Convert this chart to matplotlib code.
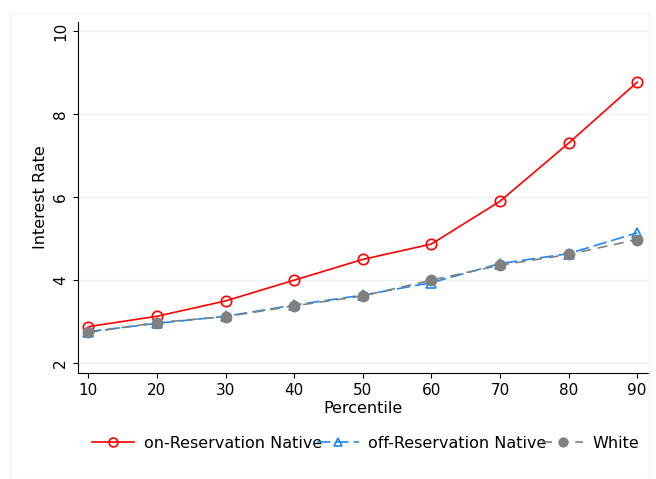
import matplotlib
matplotlib.use("Agg")
import matplotlib.pyplot as plt
from matplotlib.patches import Rectangle

percentile = [10, 20, 30, 40, 50, 60, 70, 80, 90]
on_res = [2.88, 3.13, 3.50, 4.00, 4.50, 4.87, 5.90, 7.30, 8.77]
off_res = [2.76, 2.96, 3.13, 3.40, 3.64, 3.94, 4.40, 4.64, 5.14]
white = [2.74, 2.98, 3.12, 3.38, 3.62, 4.00, 4.36, 4.62, 4.98]
yticks = [2, 4, 6, 8, 10]

plt.rcParams['font.family'] = ['DejaVu Sans']
fig = plt.figure(figsize=(6.56, 4.79), dpi=100)
fig.patches.append(Rectangle((0.015, 0.0), 0.975, 0.972, transform=fig.transFigure,
                             fill=False, edgecolor='#f2f2f2', lw=1))
ax = fig.add_axes([0.119, 0.221, 0.869, 0.733])

ax.plot(percentile, on_res, color='red', lw=1.2, marker='o', ms=7.5,
        mfc='none', mec='red', mew=1.2, label='on-Reservation Native', zorder=3)
ax.plot(percentile, off_res, color='#1e88f0', lw=1.2, ls=(0, (8, 3)), marker='^', ms=7,
        mfc='none', mec='#1e88f0', mew=1.2, label='off-Reservation Native', zorder=4)
ax.plot(percentile, white, color='#808080', lw=1.2, ls=(0, (6, 4)), marker='o', ms=7.5,
        mfc='#808080', mec='#808080', label='White', zorder=5)

ax.set_xlim(8.5, 91.6)
ax.set_ylim(1.76, 10.22)
ax.set_xticks(percentile)
ax.set_yticks(yticks)
ax.set_yticklabels([str(v) for v in yticks], rotation=90, va='center')
ax.tick_params(labelsize=11)
ax.yaxis.grid(True, color='#eaf2f3', lw=1)
ax.set_axisbelow(True)
for s in ['top', 'right']:
    ax.spines[s].set_visible(False)
ax.set_xlabel('Percentile', fontsize=11.5, labelpad=2)
ax.set_ylabel('Interest Rate', fontsize=11.5)

fig.legend(loc='center', bbox_to_anchor=(0.558, 0.075), ncol=3, frameon=False,
           fontsize=11.5, handlelength=2.6, columnspacing=-0.3, handletextpad=0.6,
           markerscale=0.85)
fig.savefig('out.png', dpi=100, facecolor='white')
